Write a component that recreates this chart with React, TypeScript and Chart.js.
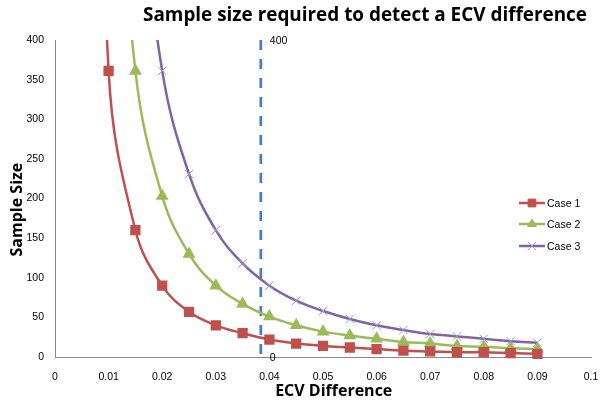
import React, { useEffect, useRef } from 'react';
import { Chart, registerables } from 'chart.js';

Chart.register(...registerables);

const chartTitle = 'Sample size required to detect a ECV difference';
const xAxisTitle = 'ECV Difference';
const yAxisTitle = 'Sample Size';

const xTicks = [0, 0.01, 0.02, 0.03, 0.04, 0.05, 0.06, 0.07, 0.08, 0.09, 0.1];
const xTickLabels = ['0', '0.01', '0.02', '0.03', '0.04', '0.05', '0.06', '0.07', '0.08', '0.09', '0.1'];
const yTicks = [0, 50, 100, 150, 200, 250, 300, 350, 400];

const case1X = [0.005, 0.01, 0.015, 0.02, 0.025, 0.03, 0.035, 0.04, 0.045, 0.05, 0.055, 0.06, 0.065, 0.07, 0.075, 0.08, 0.085, 0.09];
const case1Y = [1444, 361, 160, 90, 57, 40, 30, 22, 17, 14, 12, 10, 8, 7, 6, 6, 5, 4];

const case2X = [0.01, 0.015, 0.02, 0.025, 0.03, 0.035, 0.04, 0.045, 0.05, 0.055, 0.06, 0.065, 0.07, 0.075, 0.08, 0.085, 0.09];
const case2Y = [812, 361, 203, 130, 90, 67, 51, 40, 32, 27, 23, 19, 17, 14, 13, 11, 10];

const case3X = [0.015, 0.02, 0.025, 0.03, 0.035, 0.04, 0.045, 0.05, 0.055, 0.06, 0.065, 0.07, 0.075, 0.08, 0.085, 0.09];
const case3Y = [642, 361, 231, 160, 118, 90, 71, 58, 48, 40, 34, 29, 26, 23, 20, 18];

const thresholdX = [0.0384, 0.0384];
const thresholdY = [0, 400];

const seriesNames = ['Case 1', 'Case 2', 'Case 3'];

const RED = '#C0504D';
const GREEN = '#9BBB59';
const PURPLE = '#8064A2';
const LIGHT_PURPLE = '#A897C4';
const BLUE = '#4A7EBB';

const tickFont = { family: '"Liberation Sans", Arial, sans-serif', size: 10.5 };
const boldFont = '"Open Sans", "Liberation Sans", sans-serif';

const toPoints = (xs: number[], ys: number[]) => xs.map((x, i) => ({ x, y: ys[i] }));

function drawMarker(ctx: CanvasRenderingContext2D, style: string, x: number, y: number, r: number, fill: string, stroke: string) {
  ctx.save();
  ctx.fillStyle = fill;
  ctx.strokeStyle = stroke;
  ctx.lineWidth = 1;
  ctx.beginPath();
  if (style === 'rect') {
    const s = Math.SQRT1_2 * r;
    ctx.rect(x - s, y - s, 2 * s, 2 * s);
    ctx.fill();
    ctx.stroke();
  } else if (style === 'triangle') {
    let rad = 0;
    ctx.moveTo(x + Math.sin(rad) * r, y - Math.cos(rad) * r);
    rad += (2 * Math.PI) / 3;
    ctx.lineTo(x + Math.sin(rad) * r, y - Math.cos(rad) * r);
    rad += (2 * Math.PI) / 3;
    ctx.lineTo(x + Math.sin(rad) * r, y - Math.cos(rad) * r);
    ctx.closePath();
    ctx.fill();
    ctx.stroke();
  } else {
    const o = Math.SQRT1_2 * r;
    ctx.moveTo(x - o, y - o);
    ctx.lineTo(x + o, y + o);
    ctx.moveTo(x - o, y + o);
    ctx.lineTo(x + o, y - o);
    ctx.stroke();
  }
  ctx.restore();
}

const overlayPlugin = {
  id: 'overlay',
  afterDraw(chart: any) {
    const ctx: CanvasRenderingContext2D = chart.ctx;
    const area = chart.chartArea;
    // Title
    ctx.save();
    ctx.fillStyle = '#000';
    ctx.font = `bold 20px ${boldFont}`;
    ctx.textAlign = 'center';
    ctx.textBaseline = 'middle';
    ctx.fillText(chartTitle, 365, 15, 444);
    ctx.restore();

    // Axis titles
    ctx.save();
    ctx.fillStyle = '#000';
    ctx.font = `bold 16px ${boldFont}`;
    ctx.textAlign = 'center';
    ctx.textBaseline = 'middle';
    ctx.fillText(xAxisTitle, area.left + (area.right - area.left) * 0.52, 391, 118);
    ctx.translate(17, area.top + (area.bottom - area.top) * 0.535);
    ctx.rotate(-Math.PI / 2);
    ctx.fillText(yAxisTitle, 0, 0, 102);
    ctx.restore();

    // Data labels for threshold line
    const meta = chart.getDatasetMeta(3);
    const ds = chart.data.datasets[3];
    ctx.save();
    ctx.fillStyle = '#000';
    ctx.font = `10.5px ${tickFont.family}`;
    ctx.textAlign = 'left';
    ctx.textBaseline = 'middle';
    meta.data.forEach((pt: any, i: number) => {
      ctx.fillText(String(ds.data[i].y), pt.x + 9, pt.y + 1);
    });
    ctx.restore();

    // Legend
    const legendY = [203, 224, 246];
    for (let i = 0; i < 3; i++) {
      const d = chart.data.datasets[i];
      const y = legendY[i];
      ctx.save();
      ctx.strokeStyle = d.borderColor;
      ctx.lineWidth = 2.5;
      ctx.beginPath();
      ctx.moveTo(519, y);
      ctx.lineTo(545, y);
      ctx.stroke();
      ctx.restore();
      drawMarker(ctx, d.pointStyle, 532, y, d.pointRadius, d.pointBackgroundColor, d.pointBorderColor);
      ctx.save();
      ctx.fillStyle = '#000';
      ctx.font = `10.5px ${tickFont.family}`;
      ctx.textAlign = 'left';
      ctx.textBaseline = 'middle';
      ctx.fillText(seriesNames[i], 547, y + 1);
      ctx.restore();
    }
  },
};

export default function App() {
  const canvasRef = useRef<HTMLCanvasElement | null>(null);

  useEffect(() => {
    if (!canvasRef.current) return;
    const clip = { left: 5, top: 0, right: 5, bottom: 8 };
    const chart = new Chart(canvasRef.current, {
      type: 'line',
      data: {
        datasets: [
          {
            label: seriesNames[0],
            data: toPoints(case1X, case1Y),
            borderColor: RED,
            backgroundColor: RED,
            borderWidth: 2.5,
            pointStyle: 'rect',
            pointRadius: 5.5,
            pointBackgroundColor: RED,
            pointBorderColor: RED,
            tension: 0.4,
            clip,
          },
          {
            label: seriesNames[1],
            data: toPoints(case2X, case2Y),
            borderColor: GREEN,
            backgroundColor: GREEN,
            borderWidth: 2.5,
            pointStyle: 'triangle',
            pointRadius: 5,
            pointBackgroundColor: GREEN,
            pointBorderColor: GREEN,
            tension: 0.4,
            clip,
          },
          {
            label: seriesNames[2],
            data: toPoints(case3X, case3Y),
            borderColor: PURPLE,
            backgroundColor: PURPLE,
            borderWidth: 2.5,
            pointStyle: 'crossRot',
            pointRadius: 6,
            pointBorderWidth: 1,
            pointBackgroundColor: LIGHT_PURPLE,
            pointBorderColor: LIGHT_PURPLE,
            tension: 0.4,
            clip,
          },
          {
            label: 'threshold',
            data: toPoints(thresholdX, thresholdY),
            borderColor: BLUE,
            borderWidth: 2.75,
            borderDash: [10, 9],
            borderDashOffset: -3,
            pointRadius: 0,
            tension: 0,
            clip: { left: 5, top: 2, right: 5, bottom: 2 },
          },
        ],
      },
      options: {
        animation: false,
        responsive: false,
        elements: { line: { capBezierPoints: false } },
        layout: { padding: { top: 40, right: 9, left: 0, bottom: 0 } },
        plugins: {
          legend: { display: false },
          tooltip: { enabled: false },
          title: { display: false },
        },
        scales: {
          x: {
            type: 'linear',
            min: 0,
            max: 0.1,
            grid: { display: false, drawTicks: false },
            border: { display: true, color: '#888888', width: 1 },
            afterBuildTicks: (s: any) => {
              s.ticks = xTicks.map((v) => ({ value: v }));
            },
            afterFit: (s: any) => {
              s.height = 46;
              s.paddingLeft = 0;
              s.paddingRight = 0;
            },
            ticks: {
              font: tickFont,
              color: '#000',
              padding: 14,
              maxRotation: 0,
              autoSkip: false,
              callback: (_v: any, i: number) => xTickLabels[i],
            },
            title: { display: false },
          },
          y: {
            type: 'linear',
            min: 0,
            max: 400,
            grid: { display: false, drawTicks: false },
            border: { display: true, color: '#888888', width: 1 },
            afterBuildTicks: (s: any) => {
              s.ticks = yTicks.map((v) => ({ value: v }));
            },
            afterFit: (s: any) => {
              s.width = 55;
              s.paddingTop = 0;
              s.paddingBottom = 0;
            },
            ticks: {
              font: tickFont,
              color: '#000',
              padding: 11,
              autoSkip: false,
              callback: (v: any) => String(v),
            },
            title: { display: false },
          },
        },
      },
      plugins: [overlayPlugin],
    } as any);
    return () => chart.destroy();
  }, []);

  return (
    <div style={{ position: 'absolute', left: 0, top: 0, width: 600, height: 403, background: '#fff' }}>
      <canvas ref={canvasRef} width={600} height={403} style={{ display: 'block' }} />
    </div>
  );
}
